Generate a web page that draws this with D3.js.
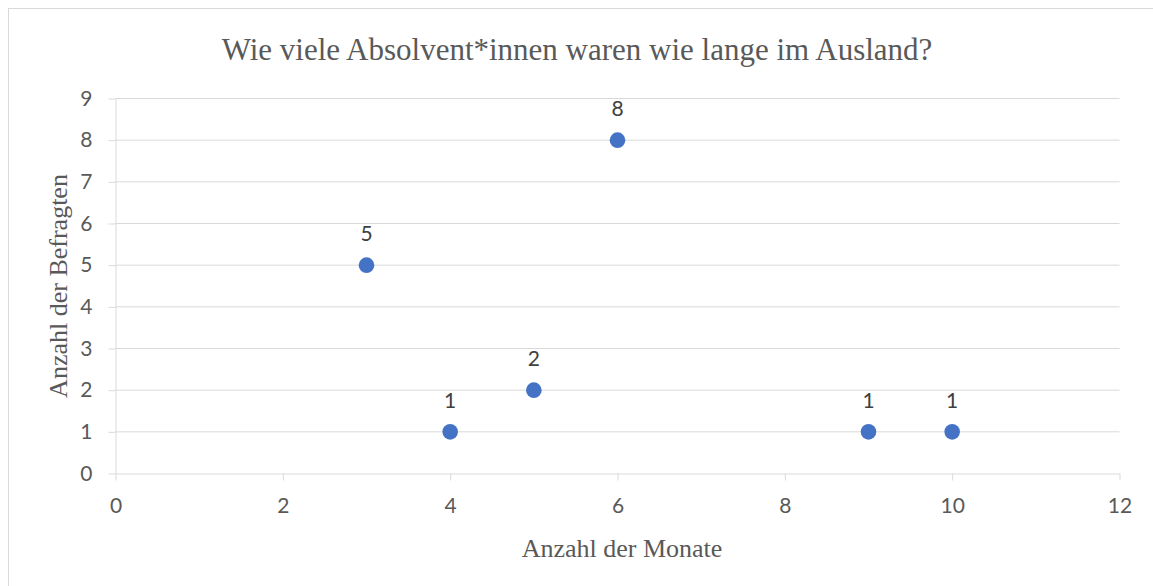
<!DOCTYPE html>
<html><head><meta charset="utf-8">
<script src="https://cdn.jsdelivr.net/npm/d3@7"></script>
<style>body{margin:0;background:#fff;}svg{display:block;}</style>
</head><body>
<script>
const months = [3, 4, 5, 6, 9, 10];
const counts = [5, 1, 2, 8, 1, 1];
const xTicks = [0, 2, 4, 6, 8, 10, 12];
const yTicks = [0, 1, 2, 3, 4, 5, 6, 7, 8, 9];
const title = "Wie viele Absolvent*innen waren wie lange im Ausland?";
const xTitle = "Anzahl der Monate";
const yTitle = "Anzahl der Befragten";

const W = 1153, H = 586;
const svg = d3.select("body").append("svg").attr("width", W).attr("height", H);
svg.append("rect").attr("x", 8.5).attr("y", 8.5).attr("width", W + 20).attr("height", H + 20)
  .attr("fill", "#fff").attr("stroke", "#d9d9d9").attr("stroke-width", 1);

const x = d3.scaleLinear().domain([0, 12]).range([115.5, 1119.5]);
const y = d3.scaleLinear().domain([0, 9]).range([473.5, 98.5]);
const tickFont = "Lato, 'Open Sans', sans-serif";

// gridlines
svg.append("g").selectAll("line").data(yTicks.filter(d => d > 0)).join("line")
  .attr("x1", x(0)).attr("x2", x(12)).attr("y1", d => y(d)).attr("y2", d => y(d))
  .attr("stroke", "#d9d9d9").attr("stroke-width", 1);

// y axis
const yAxis = svg.append("g").attr("transform", `translate(${x(0)},0)`)
  .call(d3.axisLeft(y).tickValues(yTicks).tickSize(7).tickPadding(16).tickSizeOuter(0));
// x axis
const xAxis = svg.append("g").attr("transform", `translate(0,${y(0)})`)
  .call(d3.axisBottom(x).tickValues(xTicks).tickSize(7).tickSizeOuter(0));
xAxis.selectAll(".tick text").attr("y", 39).attr("dy", 0);
[xAxis, yAxis].forEach(a => {
  a.select(".domain").attr("stroke", "#d9d9d9");
  a.selectAll(".tick line").attr("stroke", "#d9d9d9");
  a.selectAll(".tick text").attr("fill", "#595959").style("font-family", tickFont).style("font-size", "21px");
});

// points
svg.append("g").selectAll("circle").data(months).join("circle")
  .attr("cx", d => x(d)).attr("cy", (d, i) => y(counts[i])).attr("r", 7.8)
  .attr("fill", "#4472c4");
svg.append("g").selectAll("text").data(months).join("text")
  .attr("x", d => x(d)).attr("y", (d, i) => y(counts[i]) - 24)
  .attr("text-anchor", "middle").attr("fill", "#404040")
  .style("font-family", tickFont).style("font-size", "21px")
  .text((d, i) => counts[i]);

// titles
svg.append("text").attr("x", 577).attr("y", 60).attr("text-anchor", "middle")
  .attr("fill", "#595959").style("font-family", "'Liberation Serif', serif").style("font-size", "31px")
  .text(title);
svg.append("text").attr("x", 622).attr("y", 557).attr("text-anchor", "middle")
  .attr("fill", "#595959").style("font-family", "'Liberation Serif', serif").style("font-size", "26px")
  .text(xTitle);
svg.append("text").attr("transform", "translate(67,286) rotate(-90)").attr("text-anchor", "middle")
  .attr("fill", "#595959").style("font-family", "'Liberation Serif', serif").style("font-size", "26px")
  .text(yTitle);
</script>
</body></html>
